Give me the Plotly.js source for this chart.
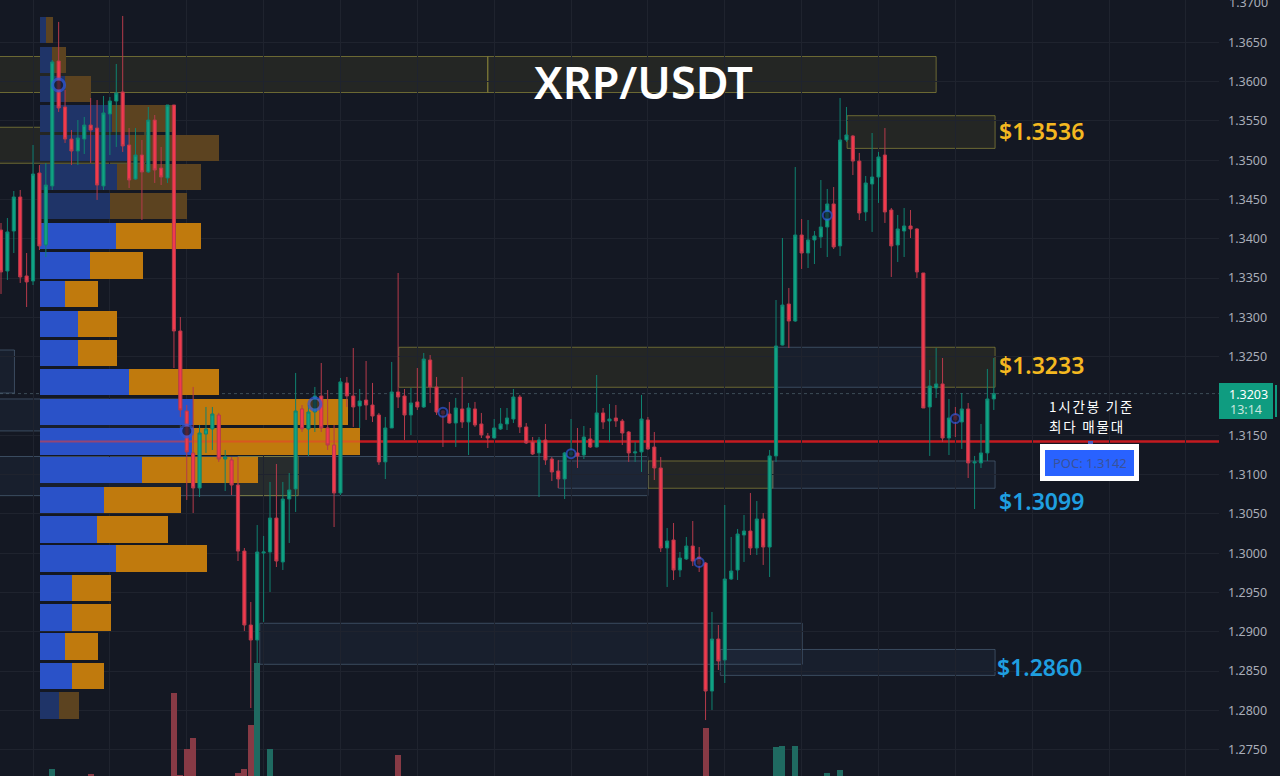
<!DOCTYPE html>
<html>
<head>
<meta charset="utf-8">
<script src="https://cdn.plot.ly/plotly-3.0.1.min.js"></script>
<style>
html,body{margin:0;padding:0;background:#141823;}
#chart{width:1280px;height:776px;}
</style>
</head>
<body>
<div id="chart"></div>
<script>
// candle values, one per bar, index 0 is the leftmost bar
var opens = [1.34112,1.33590,1.34099,1.34532,1.33527,1.33463,1.34837,1.33921,1.34672,1.36262,1.35677,1.35269,1.35117,1.35269,1.35447,1.35409,1.34672,1.35588,1.35753,1.35868,
1.35193,1.34760,1.35066,1.34850,1.35511,1.34900,1.34773,1.35702,1.32827,1.31809,1.31275,1.30829,1.31516,1.31580,1.31758,1.31198,1.31186,1.30867,1.30027,1.29086,
1.28895,1.30002,1.30015,1.30447,1.29888,1.30689,1.30817,1.31835,1.31580,1.31796,1.32000,1.31593,1.31376,1.30766,1.32166,1.32000,1.31873,1.31949,1.31885,1.31758,
1.31161,1.31593,1.32051,1.32000,1.31758,1.31924,1.31860,1.32458,1.32115,1.31809,1.31771,1.31656,1.31835,1.31669,1.31835,1.31644,1.31491,1.31465,1.31580,1.31644,
1.31707,1.31987,1.31606,1.31415,1.31275,1.31440,1.31198,1.31046,1.30944,1.31249,1.31275,1.31249,1.31453,1.31351,1.31784,1.31682,1.31720,1.31682,1.31542,1.31275,
1.31288,1.31695,1.31351,1.31084,1.30066,1.30168,1.29786,1.29926,1.30091,1.29951,1.29875,1.28246,1.28908,1.28641,1.29671,1.29786,1.30231,1.30282,1.30066,1.30435,
1.30078,1.31237,1.32648,1.33170,1.32954,1.34048,1.33819,1.33985,1.34023,1.34150,1.34443,1.33909,1.35257,1.35308,1.34989,1.34341,1.34697,1.34786,1.35066,1.34366,
1.33921,1.34099,1.34163,1.34125,1.33565,1.31860,1.32102,1.32153,1.31465,1.31758,1.31669,1.31835,1.31148,1.31148,1.31275,1.31962];
var highs = [1.34201,1.34264,1.34608,1.34621,1.33819,1.35193,1.34938,1.34964,1.36275,1.36759,1.35893,1.35384,1.35511,1.35550,1.35791,1.35766,1.35817,1.35804,1.36224,1.36835,
1.35409,1.35409,1.35257,1.35677,1.35575,1.35168,1.35702,1.35702,1.33005,1.31885,1.32115,1.31631,1.31860,1.31860,1.31784,1.31313,1.31224,1.31224,1.30066,1.29379,
1.30358,1.30219,1.30906,1.31135,1.30906,1.31020,1.32293,1.31885,1.31885,1.32115,1.32420,1.32076,1.31631,1.32229,1.32242,1.32610,1.32089,1.32445,1.32166,1.31784,
1.31733,1.32433,1.33565,1.32089,1.32102,1.32356,1.32547,1.32521,1.32242,1.31822,1.31924,1.31975,1.32242,1.31911,1.31924,1.31784,1.31529,1.31707,1.31847,1.31847,
1.32089,1.32013,1.31656,1.31478,1.31478,1.31644,1.31224,1.31186,1.31288,1.31707,1.31593,1.31618,1.31593,1.32267,1.31847,1.31898,1.31885,1.31707,1.31554,1.31415,
1.32013,1.31733,1.31542,1.31224,1.30320,1.30384,1.30015,1.30206,1.30409,1.30078,1.29888,1.29252,1.29086,1.30613,1.30206,1.30308,1.30486,1.30766,1.30664,1.30511,
1.31313,1.33221,1.34010,1.33374,1.34913,1.34252,1.34239,1.34099,1.34748,1.34634,1.34659,1.35791,1.35677,1.35321,1.35092,1.34799,1.35346,1.35105,1.35409,1.34392,
1.34303,1.34392,1.34366,1.34137,1.33565,1.32331,1.32610,1.32483,1.31962,1.31860,1.32038,1.31911,1.31237,1.31644,1.32344,1.32483];
var lows = [1.33298,1.33476,1.33819,1.33438,1.33132,1.33412,1.33857,1.33768,1.34621,1.35614,1.35219,1.34938,1.34938,1.35079,1.34964,1.34494,1.34621,1.35066,1.35168,1.35105,
1.34646,1.34748,1.34239,1.34837,1.34710,1.34684,1.34710,1.32356,1.31733,1.30677,1.30511,1.30715,1.31275,1.31313,1.31161,1.30791,1.30740,1.29900,1.29010,1.28030,
1.28603,1.29125,1.29506,1.29824,1.29786,1.30130,1.30524,1.31542,1.31237,1.31542,1.31542,1.31313,1.30333,1.30740,1.31860,1.31606,1.31593,1.31695,1.31669,1.31123,
1.30943,1.31593,1.31847,1.31440,1.31503,1.31822,1.31847,1.31911,1.31758,1.31351,1.31650,1.31351,1.31593,1.31249,1.31606,1.31465,1.31338,1.31459,1.31567,1.31567,
1.31656,1.31529,1.31389,1.31249,1.30715,1.31123,1.30918,1.30829,1.30689,1.31224,1.31084,1.31198,1.31338,1.31345,1.31580,1.31415,1.31606,1.31376,1.31161,1.31161,
1.31033,1.31313,1.30931,1.30015,1.29570,1.29659,1.29697,1.29913,1.29837,1.29760,1.27877,1.28005,1.28514,1.28348,1.29659,1.29659,1.29888,1.29977,1.29977,1.29850,
1.29697,1.31161,1.32642,1.32610,1.32942,1.33616,1.33628,1.33679,1.33883,1.33768,1.33870,1.33781,1.35232,1.34811,1.34239,1.34226,1.34087,1.34456,1.34201,1.33514,
1.33705,1.33768,1.34010,1.33501,1.31847,1.31237,1.31975,1.31415,1.31249,1.31478,1.31326,1.30956,1.30562,1.31084,1.31173,1.31822];
var closes = [1.33578,1.34087,1.34532,1.33514,1.33451,1.34824,1.33909,1.34684,1.36250,1.35664,1.35269,1.35117,1.35282,1.35447,1.35384,1.34684,1.35601,1.35753,1.35855,1.35181,
1.34748,1.35066,1.34850,1.35511,1.34875,1.34786,1.35702,1.32827,1.31822,1.31288,1.30829,1.31529,1.31580,1.31771,1.31198,1.31224,1.30867,1.30027,1.29086,1.28895,
1.30015,1.30015,1.30447,1.29900,1.30689,1.30804,1.31809,1.31580,1.31796,1.32000,1.31593,1.31376,1.30766,1.32179,1.32000,1.31860,1.31936,1.31885,1.31745,1.31161,
1.31593,1.32051,1.31987,1.31758,1.31911,1.31860,1.32470,1.32115,1.31796,1.31771,1.31656,1.31847,1.31669,1.31847,1.31631,1.31504,1.31465,1.31593,1.31644,1.31720,
1.31987,1.31606,1.31402,1.31262,1.31440,1.31186,1.31033,1.30944,1.31275,1.31288,1.31237,1.31478,1.31351,1.31784,1.31669,1.31707,1.31682,1.31529,1.31275,1.31288,
1.31707,1.31326,1.31084,1.30066,1.30155,1.29786,1.29938,1.30091,1.29900,1.29862,1.28246,1.28908,1.28628,1.29671,1.29773,1.30244,1.30282,1.30066,1.30435,1.30078,
1.31237,1.32636,1.33157,1.32954,1.34048,1.33819,1.33985,1.34036,1.34150,1.34443,1.33896,1.35257,1.35321,1.34989,1.34328,1.34710,1.34786,1.35041,1.34341,1.33909,
1.34125,1.34163,1.34125,1.33578,1.31847,1.32127,1.32153,1.31465,1.31720,1.31695,1.31835,1.31148,1.31161,1.31275,1.31962,1.32030];

// volume bars, only the ones tall enough to show above the bottom edge
var volIndex = [8,14,27,28,29,30,37,38,39,40,42,62,110,121,122,124,129,131];
var volValue = [7,2,83,1.5,27,38,3,7,51,113,27,21,48,29,30,30,3,6];
var volUp = [1,0,0,0,0,0,0,0,0,1,1,0,0,1,1,1,1,1];

// volume profile rows
var rowPrice = [1.36656,1.36275,1.35906,1.35530,1.35155,1.34786,1.34417,1.34036,1.33660,1.33298,1.32916,1.32547,1.32179,1.31796,1.31421,1.31058,1.30677,1.30302,1.29933,1.29557,1.29182,1.28812,1.28437,1.28062];
var rowBuy = [6,12,25,72,89,76.7,70,76,50.3,25,37.7,37.7,89.3,153.3,152,102,63.7,57,76.3,31.7,31.7,25,31.7,19];
var rowSell = [6.7,13.7,26.3,60,90,84,77.3,84.7,52.4,33,39.3,39.3,90,154.4,168,115.7,77.3,71.3,90.4,39,39,33,32.6,19.7];
var rowFaded = [1,1,1,1,1,1,1,0,0,0,0,0,0,0,0,0,0,0,0,0,0,0,0,1];

// zones
var zoneStart = [-1,76,-1,62.1,121,144,-1,37,87,101,120.5,132.1,40.4,112.3,-1,-1];
var zoneEnd = [76,146,22.5,121,144,155.2,101,46.4,101,120.5,155.2,155.2,125.1,155.2,28,2.1];
var zoneTop = [1.36319,1.36319,1.35419,1.32620,1.32620,1.32620,1.31230,1.31230,1.31173,1.31173,1.31173,1.35566,1.29108,1.28775,1.31962,1.32585];
var zoneBottom = [1.35861,1.35861,1.34961,1.32111,1.32111,1.32111,1.30732,1.30732,1.30826,1.30826,1.30826,1.35150,1.28586,1.28445,1.31555,1.32038];
var zoneKind = ['y','y','y','y','b','y','b','y','b','y','b','y','b','b','b','b'];

// pivot circles
var pivotIndex = [9,29,49,69,89,109,129,149];
var pivotPrice = [1.35957,1.31555,1.31898,1.31793,1.31266,1.29882,1.34299,1.31713];

var priceTicks = [1.365,1.36,1.355,1.35,1.345,1.34,1.335,1.33,1.325,1.315,1.31,1.305,1.30,1.295,1.29,1.285,1.28,1.275];
var pocPrice = 1.3142;
var lastPrice = 1.3203;
var topPriceLabel = 1.37;
var supplyLabels = ['$1.3536','$1.3233'];
var demandLabels = ['$1.3099','$1.2860'];

var W = 1219, H = 776;
function px(x){return x/W;}
function py(y){return 1-y/H;}

var idx = [];
for (var i=0;i<opens.length;i++){idx.push(i);}

var profileBuyColors = rowFaded.map(function(f){return f?'#1f3468':'#2a52c8';});
var profileSellColors = rowFaded.map(function(f){return f?'#5c4320':'#c07a0d';});
var volColors = volUp.map(function(u){return u?'#1f6a61':'#873a45';});

var traces = [
  {type:'bar',orientation:'h',x:rowBuy,y:rowPrice,width:0.00337,xaxis:'x',yaxis:'y',
   marker:{color:profileBuyColors,line:{width:0}},hoverinfo:'skip'},
  {type:'bar',orientation:'h',x:rowSell,y:rowPrice,width:0.00337,xaxis:'x',yaxis:'y',
   marker:{color:profileSellColors,line:{width:0}},hoverinfo:'skip'},
  // poc line shows through the profile rows
  {type:'scatter',mode:'lines',x:[0,rowBuy[14]+rowSell[14]],y:[pocPrice,pocPrice],xaxis:'x',yaxis:'y',
   line:{color:'rgba(235,60,50,0.55)',width:2},hoverinfo:'skip'},
  {type:'bar',x:volIndex,y:volValue,width:0.95,xaxis:'x2',yaxis:'y2',
   marker:{color:volColors,line:{width:0}},hoverinfo:'skip'},
  {type:'candlestick',x:idx,open:opens,high:highs,low:lows,close:closes,xaxis:'x3',yaxis:'y',width:0.68,
   increasing:{line:{color:'#0f8270',width:1},fillcolor:'#10a383'},
   decreasing:{line:{color:'#b53a4b',width:1},fillcolor:'#f23a4d'},hoverinfo:'skip'},
  {type:'scatter',mode:'markers',x:pivotIndex,y:pivotPrice,xaxis:'x3',yaxis:'y',
   marker:{size:[12,12,12,9,9,9,9,9],color:'#141a2c',line:{color:'#2f57d8',width:[3,3,3,2,2,2,2,2]}},hoverinfo:'skip'}
];

var shapes = [];
for (var z=0;z<zoneStart.length;z++){
  var isY = zoneKind[z]=='y';
  shapes.push({type:'rect',layer:'below',xref:'x3',yref:'y',x0:zoneStart[z],x1:zoneEnd[z],y0:zoneBottom[z],y1:zoneTop[z],
    fillcolor:isY?'rgba(130,120,50,0.15)':'rgba(70,100,140,0.1)',
    line:{color:isY?'rgba(150,145,60,0.65)':'rgba(90,115,140,0.55)',width:1}});
}
// last price line and poc line
shapes.push({type:'line',layer:'below',xref:'paper',yref:'y',x0:0,x1:1,y0:lastPrice,y1:lastPrice,line:{color:'rgba(95,120,130,0.55)',width:1,dash:'dot'}});
shapes.push({type:'line',layer:'below',xref:'x',yref:'y',x0:0,x1:1179,y0:pocPrice,y1:pocPrice,line:{color:'#c41a20',width:2.5}});
// poc box
shapes.push({type:'rect',layer:'above',xref:'paper',yref:'paper',x0:px(1040),x1:px(1139),y0:py(481),y1:py(444),fillcolor:'#ffffff',line:{width:0}});
shapes.push({type:'rect',layer:'above',xref:'paper',yref:'paper',x0:px(1045),x1:px(1134),y0:py(476),y1:py(450),fillcolor:'#2962ff',line:{width:0}});
shapes.push({type:'rect',layer:'above',xref:'paper',yref:'paper',x0:px(1088),x1:px(1093),y0:py(444),y1:py(441),fillcolor:'#4a5fc0',line:{width:0}});
// price tag on the axis
shapes.push({type:'rect',layer:'above',xref:'paper',yref:'paper',x0:1,x1:px(1273),y0:py(419),y1:py(383),fillcolor:'#0f9c80',line:{width:0}});
shapes.push({type:'rect',layer:'above',xref:'paper',yref:'paper',x0:px(1275),x1:px(1277),y0:py(417),y1:py(385),fillcolor:'#0f9c80',line:{width:0}});

function note(text,x,y,size,color,anchor,weight,family){
  // annotations pad their text a little on the left
  var nudge = anchor=='left'?-2.5:0;
  return {xref:'paper',yref:'paper',x:px(x+nudge),y:py(y),text:text,showarrow:false,xanchor:anchor,yanchor:'middle',align:anchor,
    font:{size:size,color:color,weight:weight||400,family:family||'"Noto Sans", sans-serif'}};
}
var kr = '"Noto Sans CJK KR", sans-serif';
var annotations = [
  note('XRP/USDT',643,82,45,'#ffffff','center',600),
  note(supplyLabels[0],999,131,23,'#f4b820','left',600),
  note(supplyLabels[1],999,365,23,'#f4b820','left',600),
  note(demandLabels[0],999,501,23,'#1f9fe0','left',600),
  note(demandLabels[1],997,667,23,'#1f9fe0','left',600),
  note('1시간봉 기준',1049,406,13.5,'#ffffff','left',400,kr),
  note('최다 매물대',1049,426,13.5,'#ffffff','left',400,kr),
  note('POC: '+pocPrice.toFixed(4),1090,463,13,'#3a5299','center'),
  note(lastPrice.toFixed(4),1248,394,12.5,'#ffffff','center'),
  note('13:14',1246,409,12.5,'#c9e6df','center'),
  note(topPriceLabel.toFixed(4),1229,3,12.5,'#a9adb8','left')
];

var xr = [-0.156,190.16];
var layout = {
  width:1280,height:776,
  margin:{l:0,r:61,t:0,b:0},
  paper_bgcolor:'#141823',plot_bgcolor:'#141823',
  showlegend:false,barmode:'stack',
  xaxis:{range:[-40,1179],visible:false,fixedrange:true},
  xaxis2:{range:xr,overlaying:'x',visible:false,fixedrange:true},
  xaxis3:{range:xr,overlaying:'x',fixedrange:true,showticklabels:false,ticks:'',zeroline:false,
    rangeslider:{visible:false},tick0:5,dtick:12,showgrid:true,gridcolor:'#1f232e',gridwidth:1},
  yaxis:{range:[1.27165,1.37038],side:'right',anchor:'x',tickvals:priceTicks,ticktext:priceTicks.map(function(p){return p.toFixed(4);}),
    ticks:'',ticklabelstandoff:8,showline:false,zeroline:false,showgrid:true,gridcolor:'#1f232e',gridwidth:1,
    tickfont:{size:12.5,color:'#a9adb8',family:'"Noto Sans", sans-serif'},fixedrange:true},
  yaxis2:{range:[0,776],overlaying:'y',visible:false,fixedrange:true,anchor:'x2'},
  shapes:shapes,annotations:annotations
};

Plotly.newPlot('chart',traces,layout,{displayModeBar:false,staticPlot:true}).then(function(){
  // the korean note is spaced wider than the font's default
  document.querySelectorAll('.annotation-text').forEach(function(t){
    if (/[\uac00-\ud7a3]/.test(t.textContent)) {t.style.letterSpacing='1.8px';}
  });
});
</script>
</body>
</html>
